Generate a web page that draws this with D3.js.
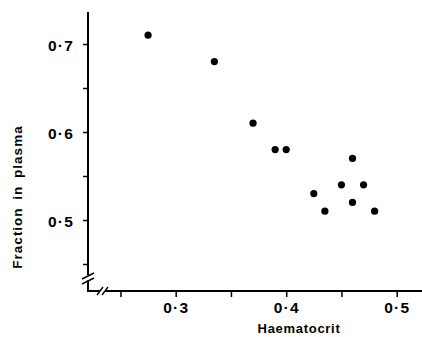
<!DOCTYPE html>
<html>
<head>
<meta charset="utf-8">
<script src="https://cdn.jsdelivr.net/npm/d3@7.9.0/dist/d3.min.js"></script>
<style>
  html, body { margin: 0; padding: 0; background: #fff; }
  svg { display: block; font-family: "Liberation Sans", Arial, sans-serif; }
</style>
</head>
<body>
<div id="chart"></div>
<script>
// values
const haematocrit = [0.275, 0.335, 0.37, 0.39, 0.40, 0.46, 0.45, 0.47, 0.425, 0.46, 0.435, 0.48];
const plasmaFraction = [0.71, 0.68, 0.61, 0.58, 0.58, 0.57, 0.54, 0.54, 0.53, 0.52, 0.51, 0.51];
const xTicks = [0.25, 0.3, 0.35, 0.4, 0.45, 0.5];
const yTicks = [0.45, 0.5, 0.55, 0.6, 0.65, 0.7];
const xLabelled = [0.3, 0.4, 0.5];
const yLabelled = [0.5, 0.6, 0.7];

const width = 422;
const height = 337;
const origin = { x: 88, y: 291 };

const svg = d3.select('#chart')
  .append('svg')
  .attr('width', width)
  .attr('height', height);

const x = d3.scaleLinear().domain([0.3, 0.5]).range([175.7, 396.7]);
const y = d3.scaleLinear().domain([0.5, 0.7]).range([220, 44]);

const fmt = (d) => d3.format('.1f')(d).replace('.', '\u00b7');

// x axis
const xAxis = d3.axisBottom(x)
  .tickValues(xTicks)
  .tickSize(6)
  .tickFormat((d) => (xLabelled.some((v) => Math.abs(v - d) < 1e-9) ? fmt(d) : ''));

const gx = svg.append('g')
  .attr('transform', `translate(0, ${origin.y})`)
  .call(xAxis);
gx.select('.domain').remove();
gx.selectAll('.tick line').attr('stroke', '#000').attr('stroke-width', 1.5);
gx.selectAll('.tick text')
  .attr('y', 11)
  .attr('font-size', 15.5)
  .attr('font-weight', 'bold')
  .attr('letter-spacing', 1.2)
  .attr('fill', '#000');

// y axis
const yAxis = d3.axisLeft(y)
  .tickValues(yTicks)
  .tickSize(5)
  .tickFormat((d) => (yLabelled.some((v) => Math.abs(v - d) < 1e-9) ? fmt(d) : ''));

const gy = svg.append('g')
  .attr('transform', `translate(${origin.x}, 0)`)
  .call(yAxis);
gy.select('.domain').remove();
gy.selectAll('.tick line').attr('stroke', '#000').attr('stroke-width', 1.5);
gy.selectAll('.tick text')
  .attr('x', -14)
  .attr('dy', '0.4em')
  .attr('font-size', 15.5)
  .attr('font-weight', 'bold')
  .attr('letter-spacing', 1.2)
  .attr('fill', '#000');

// axis lines with breaks near the corner
const axisLines = svg.append('g')
  .attr('stroke', '#000')
  .attr('stroke-width', 2)
  .attr('fill', 'none');

axisLines.append('path')
  .attr('d', `M${origin.x},12 V${origin.y - 16} M${origin.x},${origin.y - 11} V${origin.y} H${origin.x + 12}`);
axisLines.append('path')
  .attr('d', `M${origin.x + 17},${origin.y} H${width}`);

// break marks
const breaks = svg.append('g')
  .attr('stroke', '#000')
  .attr('stroke-width', 1.4)
  .attr('fill', 'none');
breaks.append('path')
  .attr('d', `M${origin.x - 6},${origin.y - 12} L${origin.x + 6},${origin.y - 18} M${origin.x - 6},${origin.y - 7} L${origin.x + 6},${origin.y - 13}`);
breaks.append('path')
  .attr('d', `M${origin.x + 9},${origin.y + 4} L${origin.x + 15},${origin.y - 4} M${origin.x + 14},${origin.y + 4} L${origin.x + 20},${origin.y - 4}`);

// points
svg.append('g')
  .selectAll('circle')
  .data(haematocrit.map((h, i) => ({ h, p: plasmaFraction[i] })))
  .join('circle')
  .attr('cx', (d) => x(d.h))
  .attr('cy', (d) => y(d.p))
  .attr('r', 3.6)
  .attr('fill', '#000');

// axis titles
svg.append('text')
  .attr('x', 299)
  .attr('y', 333)
  .attr('text-anchor', 'middle')
  .attr('font-size', 13)
  .attr('font-weight', 'bold')
  .attr('letter-spacing', 0.7)
  .attr('fill', '#000')
  .text('Haematocrit');

svg.append('text')
  .attr('transform', 'translate(22, 197) rotate(-90)')
  .attr('text-anchor', 'middle')
  .attr('font-size', 13.5)
  .attr('font-weight', 'bold')
  .attr('letter-spacing', 1)
  .attr('word-spacing', 3)
  .attr('fill', '#000')
  .text('Fraction in plasma');
</script>
</body>
</html>
